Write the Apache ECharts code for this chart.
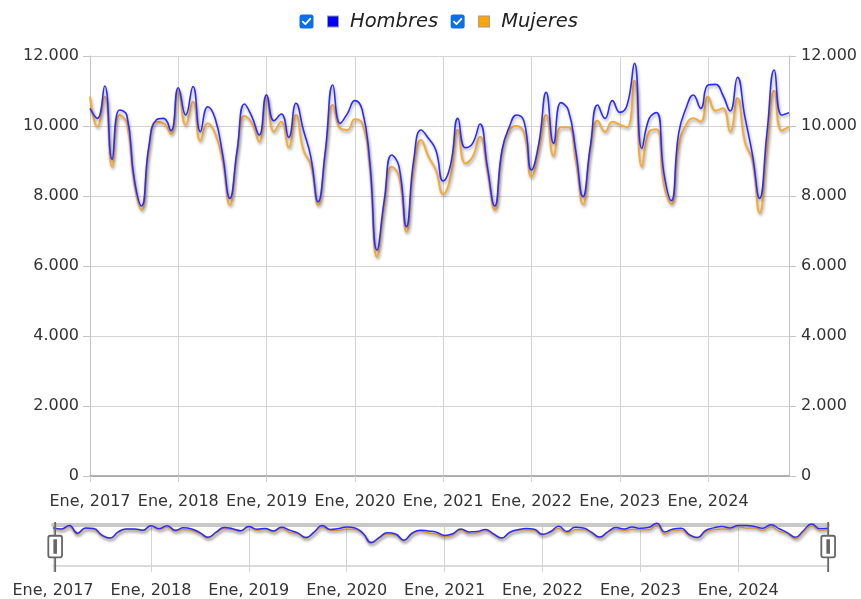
<!DOCTYPE html>
<html>
<head>
<meta charset="utf-8">
<script src="https://cdn.jsdelivr.net/npm/echarts@6/dist/echarts.min.js"></script>
<style>
  html, body { margin: 0; padding: 0; background: #fff; }
  #chart { width: 861px; height: 599px; }
</style>
</head>
<body>
<div id="chart"></div>
<script type="text/javascript">
	// datos mensuales Ene 2017 - Dic 2024
	var meses = ['Ene', 'Feb', 'Mar', 'Abr', 'May', 'Jun', 'Jul', 'Ago', 'Sep', 'Oct', 'Nov', 'Dic'];
	var anios = [2017, 2018, 2019, 2020, 2021, 2022, 2023, 2024];
	var yTicks = [0, 2000, 4000, 6000, 8000, 10000, 12000];

	var hombres = [
		10505, 10219, 11143, 9048, 10457, 10314, 8500, 7714, 9410, 10171, 10219, 9867,
		11095, 10314, 11124, 9838, 10552, 10219, 9219, 7933, 9314, 10629, 10267, 9743,
		10890, 10152, 10343, 9676, 10648, 9886, 9124, 7838, 9314, 11171, 10076, 10362,
		10724, 10457, 9029, 6457, 7886, 9171, 8838, 7124, 9029, 9886, 9648, 9314,
		8430, 8886, 10219, 9381, 9505, 10057, 8838, 7714, 9314, 9981, 10314, 10124,
		8743, 9505, 10962, 9505, 10667, 10457, 9314, 7981, 9410, 10600, 10219, 10724,
		10390, 10600, 11790, 9362, 10219, 10381, 8648, 7867, 9790, 10505, 10886, 10505,
		11171, 11190, 10886, 10429, 11390, 10267, 9219, 7933, 9790, 11600, 10314, 10381
	];
	var mujeres = [
		10838, 9981, 10838, 8838, 10314, 10076, 8362, 7600, 9314, 10124, 10076, 9771,
		11029, 10029, 10695, 9581, 10076, 9790, 9029, 7743, 9219, 10286, 10076, 9552,
		10838, 9838, 10124, 9390, 10314, 9314, 8886, 7743, 9219, 10600, 9933, 9886,
		10190, 10076, 8838, 6267, 7695, 8838, 8552, 6981, 8790, 9600, 9124, 8743,
		8057, 8552, 9886, 8933, 9124, 9695, 8695, 7600, 9219, 9886, 10000, 9790,
		8552, 9314, 10314, 9143, 9962, 9962, 9029, 7762, 9314, 10152, 9838, 10124,
		10040, 9962, 11295, 8838, 9838, 9905, 8314, 7771, 9410, 10029, 10219, 10124,
		10838, 10438, 10505, 9838, 10790, 9552, 9029, 7524, 9314, 11010, 9867, 9981
	];

	var categorias = [];
	for (var a = 0; a < anios.length; a++) {
		for (var m = 0; m < meses.length; m++) {
			categorias.push(meses[m] + ', ' + anios[a]);
		}
	}

	function miles(v) {
		return String(v).replace(/\B(?=(\d{3})+(?!\d))/g, '.');
	}
	function cadaAnio(index) {
		return index % 12 === 0;
	}
	// icono de leyenda: casilla marcada + cuadrado de color
	function icono(color) {
		var svg = "<svg xmlns='http://www.w3.org/2000/svg' width='40' height='15' viewBox='0 0 40 15'>" +
			"<rect x='0.5' y='0.5' width='14' height='14' rx='2.5' fill='#0b6fe8'/>" +
			"<path d='M3.8 7.6 L6.4 10.2 L11.2 4.8' fill='none' stroke='#fff' stroke-width='1.8' stroke-linecap='round' stroke-linejoin='round'/>" +
			"<rect x='28.5' y='2' width='11' height='11' fill='" + color + "' stroke='#9a9a9a' stroke-width='1'/>" +
			"</svg>";
		return 'image://data:image/svg+xml;charset=utf-8,' + encodeURIComponent(svg);
	}

	var fuente = 'DejaVu Sans, Verdana, sans-serif';
	var sombra = {
		shadowColor: 'rgba(0,0,0,0.35)',
		shadowBlur: 3,
		shadowOffsetX: 1,
		shadowOffsetY: 2
	};

	var chart = echarts.init(document.getElementById('chart'), null, { renderer: 'canvas' });

	chart.setOption({
		animation: false,
		textStyle: { fontFamily: fuente },
		legend: {
			left: 299,
			top: 11.5,
			padding: 0,
			itemWidth: 40,
			itemHeight: 15,
			itemGap: 12,
			textStyle: {
				fontFamily: fuente,
				fontStyle: 'italic',
				fontSize: 19.5,
				color: '#222',
				padding: [0, 0, 12, 6]
			},
			data: [
				{ name: 'Hombres', icon: icono('#0000ff') },
				{ name: 'Mujeres', icon: icono('#ffa500') }
			]
		},
		grid: [
			{ left: 90, right: 72, top: 56, height: 420 },
			{ left: 53, right: 33, top: 525, height: 42 }
		],
		xAxis: [{
			type: 'category',
			gridIndex: 0,
			data: categorias,
			boundaryGap: false,
			axisLine: { lineStyle: { color: '#9a9a9a', width: 1.5 } },
			axisTick: { interval: cadaAnio, length: 6, lineStyle: { color: '#d4d4d4' } },
			axisLabel: { interval: cadaAnio, fontSize: 16, color: '#333', margin: 18 },
			splitLine: { show: true, interval: cadaAnio, lineStyle: { color: '#d4d4d4' } }
		}, {
			type: 'category',
			gridIndex: 1,
			data: categorias,
			boundaryGap: false,
			axisLine: { lineStyle: { color: '#cfcfcf', width: 1.5 } },
			axisTick: { interval: cadaAnio, length: 6, lineStyle: { color: '#d4d4d4' } },
			axisLabel: { interval: cadaAnio, fontSize: 16, color: '#333', margin: 17 },
			splitLine: { show: true, interval: cadaAnio, lineStyle: { color: '#d4d4d4' } }
		}, {
			type: 'category',
			gridIndex: 1,
			position: 'top',
			data: categorias,
			boundaryGap: false,
			axisLine: { lineStyle: { color: '#c8c8c8', width: 4 } },
			axisTick: { show: false },
			axisLabel: { show: false }
		}],
		yAxis: [{
			type: 'value',
			gridIndex: 0,
			position: 'left',
			min: yTicks[0],
			max: yTicks[yTicks.length - 1],
			interval: 2000,
			axisLine: { show: true, lineStyle: { color: '#c4c4c4' } },
			axisTick: { show: true, length: 7, lineStyle: { color: '#c4c4c4' } },
			axisLabel: { fontSize: 16, color: '#333', margin: 11, formatter: miles },
			splitLine: { lineStyle: { color: '#d4d4d4' } }
		}, {
			type: 'value',
			gridIndex: 0,
			position: 'right',
			min: yTicks[0],
			max: yTicks[yTicks.length - 1],
			interval: 2000,
			axisLine: { show: true, lineStyle: { color: '#c4c4c4' } },
			axisTick: { show: true, length: 7, lineStyle: { color: '#c4c4c4' } },
			axisLabel: { fontSize: 16, color: '#333', margin: 12, formatter: miles },
			splitLine: { show: false }
		}, {
			type: 'value',
			gridIndex: 1,
			min: 0,
			max: 11300,
			show: false,
			splitLine: { show: false }
		}],
		dataZoom: [{
			type: 'slider',
			xAxisIndex: 0,
			start: 0,
			end: 100,
			left: 53,
			right: 33,
			top: 522,
			height: 50,
			backgroundColor: 'rgba(0,0,0,0)',
			borderColor: 'rgba(0,0,0,0)',
			fillerColor: 'rgba(0,0,0,0)',
			showDataShadow: false,
			showDetail: false,
			brushSelect: false,
			handleIcon: 'path://M0,0V15M-5,15h10a2,2,0,0,1,2,2v18a2,2,0,0,1,-2,2h-10a2,2,0,0,1,-2,-2v-18a2,2,0,0,1,2,-2ZM-0.9,19.5h1.8v13h-1.8ZM0,37V51',
			handleSize: '100%',
			handleStyle: { color: '#fff', borderColor: '#666', borderWidth: 1.8 },
			emphasis: { handleStyle: { color: '#fff', borderColor: '#666', borderWidth: 1.8 } }
		}],
		series: [{
			name: 'Mujeres',
			type: 'line',
			xAxisIndex: 0,
			yAxisIndex: 0,
			data: mujeres,
			smooth: true,
			symbol: 'none',
			z: 2,
			itemStyle: { color: '#ffa500' },
			lineStyle: Object.assign({ color: '#f5ab3c', width: 2 }, sombra)
		}, {
			name: 'Hombres',
			type: 'line',
			xAxisIndex: 0,
			yAxisIndex: 0,
			data: hombres,
			smooth: true,
			symbol: 'none',
			z: 3,
			itemStyle: { color: '#0000ff' },
			lineStyle: Object.assign({ color: '#2b2bff', width: 1.6 }, sombra)
		}, {
			name: 'Mujeres',
			type: 'line',
			xAxisIndex: 1,
			yAxisIndex: 2,
			data: mujeres,
			smooth: true,
			symbol: 'none',
			clip: false,
			silent: true,
			z: 2,
			itemStyle: { color: '#ffa500' },
			lineStyle: Object.assign({ color: '#f5ab3c', width: 1.5 }, sombra)
		}, {
			name: 'Hombres',
			type: 'line',
			xAxisIndex: 1,
			yAxisIndex: 2,
			data: hombres,
			smooth: true,
			symbol: 'none',
			clip: false,
			silent: true,
			z: 3,
			itemStyle: { color: '#0000ff' },
			lineStyle: Object.assign({ color: '#2b2bff', width: 1.5 }, sombra)
		}]
	});
</script>
</body>
</html>
